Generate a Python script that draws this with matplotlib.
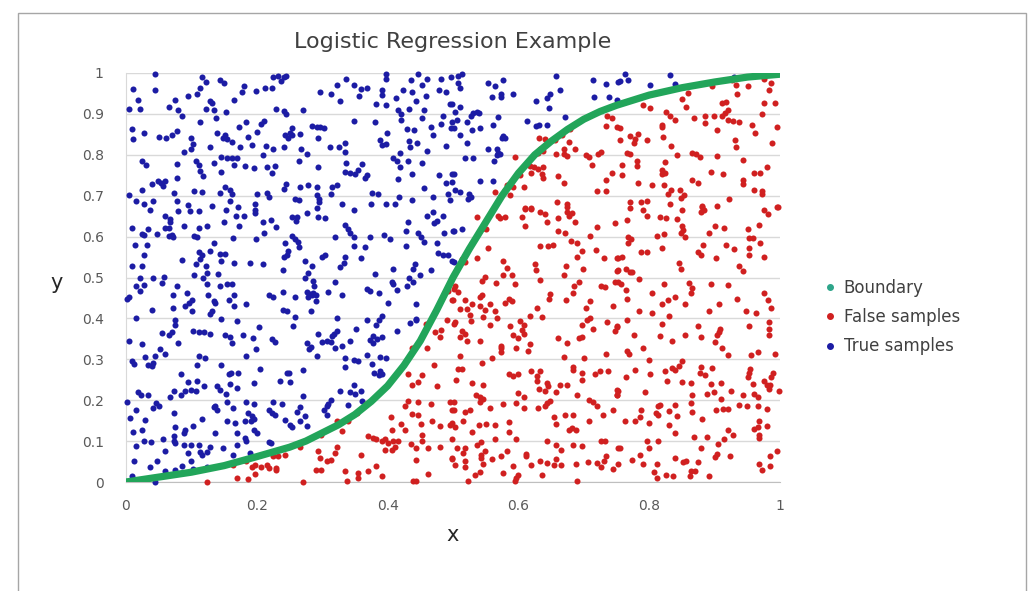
import matplotlib
matplotlib.use("Agg")
import matplotlib.pyplot as plt
from matplotlib.lines import Line2D
from matplotlib.patches import Rectangle

plt.rcParams['font.family'] = ['DejaVu Sans']

title = "Logistic Regression Example"
x_label = "x"
y_label = "y"
x_ticks = [0, 0.2, 0.4, 0.6, 0.8, 1]
x_tick_labels = ["0", "0.2", "0.4", "0.6", "0.8", "1"]
y_ticks = [0, 0.1, 0.2, 0.3, 0.4, 0.5, 0.6, 0.7, 0.8, 0.9, 1]
y_tick_labels = ["0", "0.1", "0.2", "0.3", "0.4", "0.5", "0.6", "0.7", "0.8", "0.9", "1"]
legend_labels = ["Boundary", "False samples", "True samples"]

# Boundary curve
boundary_x = [0, 0.05, 0.1, 0.15, 0.2, 0.25, 0.275, 0.3, 0.325, 0.35, 0.375, 0.4, 0.425, 0.45, 0.475, 0.5,
              0.525, 0.55, 0.575, 0.6, 0.625, 0.65, 0.675, 0.7, 0.725, 0.75, 0.8, 0.85, 0.9, 0.95, 1.0]
boundary_y = [0.0, 0.012, 0.024, 0.04, 0.062, 0.085, 0.10, 0.12, 0.14, 0.165, 0.197, 0.235, 0.285, 0.345, 0.42, 0.50,
              0.57, 0.635, 0.70, 0.755, 0.80, 0.833, 0.862, 0.887, 0.906, 0.921, 0.946, 0.964, 0.978, 0.99, 0.997]

true_samples = [
(0.044,0.997),(0.116,0.99),(0.122,0.978),(0.144,0.982),(0.150,0.975),(0.225,0.99),(0.233,0.992),(0.241,0.99),(0.237,0.98),(0.245,0.992),
(0.011,0.962),(0.044,0.958),(0.113,0.964),(0.180,0.967),(0.178,0.953),(0.199,0.956),(0.213,0.964),(0.223,0.964),
(0.019,0.935),(0.075,0.933),(0.095,0.944),(0.109,0.948),(0.128,0.931),(0.132,0.927),(0.165,0.933),
(0.004,0.913),(0.021,0.913),(0.065,0.918),(0.079,0.909),(0.085,0.895),(0.123,0.913),(0.135,0.91),(0.153,0.905),(0.230,0.913),(0.241,0.907),(0.245,0.9),
(0.138,0.89),(0.113,0.879),(0.183,0.879),(0.173,0.868),(0.211,0.883),(0.207,0.876),
(0.009,0.862),(0.010,0.839),(0.027,0.853),(0.051,0.843),(0.061,0.842),(0.070,0.849),(0.078,0.859),(0.100,0.841),(0.139,0.853),(0.151,0.848),(0.155,0.839),(0.149,0.842),(0.186,0.843),(0.201,0.856),(0.243,0.849),(0.248,0.841),
(0.103,0.826),(0.100,0.813),(0.088,0.807),(0.128,0.819),(0.162,0.831),(0.175,0.819),(0.193,0.824),(0.214,0.821),(0.225,0.813),(0.241,0.818),(0.209,0.799),
(0.146,0.795),(0.155,0.793),(0.162,0.793),(0.169,0.793),(0.025,0.784),(0.030,0.775),(0.078,0.778),(0.107,0.786),(0.111,0.775),(0.135,0.781),(0.165,0.775),(0.182,0.772),(0.196,0.768),(0.215,0.77),(0.228,0.772),
(0.113,0.76),(0.146,0.758),(0.224,0.756),(0.078,0.744),(0.118,0.747),
(0.039,0.729),(0.049,0.737),(0.054,0.731),(0.057,0.724),(0.060,0.737),(0.151,0.721),(0.159,0.715),(0.245,0.729),(0.242,0.717),
(0.004,0.701),(0.024,0.713),(0.073,0.706),(0.104,0.711),(0.116,0.709),(0.144,0.706),(0.162,0.703),(0.201,0.704),(0.215,0.706),(0.218,0.698),
(0.016,0.688),(0.027,0.68),(0.042,0.688),(0.078,0.687),(0.095,0.678),(0.132,0.676),(0.159,0.687),(0.172,0.672),(0.197,0.68),
(0.337,0.986),(0.397,0.997),(0.397,0.986),(0.446,0.997),(0.436,0.984),(0.461,0.986),(0.482,0.986),(0.497,0.99),
(0.322,0.97),(0.348,0.97),(0.360,0.962),(0.368,0.964),(0.392,0.958),(0.424,0.958),(0.438,0.954),(0.453,0.97),(0.479,0.959),(0.490,0.954),(0.297,0.954),(0.314,0.948),(0.356,0.944),(0.392,0.947),
(0.327,0.931),(0.383,0.925),(0.398,0.921),(0.413,0.939),(0.443,0.931),(0.458,0.944),(0.495,0.925),
(0.271,0.909),(0.416,0.91),(0.420,0.899),(0.433,0.913),(0.456,0.909),(0.484,0.896),(0.421,0.886),(0.452,0.89),(0.348,0.883),(0.381,0.879),(0.482,0.876),(0.499,0.88),
(0.254,0.866),(0.285,0.87),(0.292,0.868),(0.297,0.868),(0.303,0.866),(0.429,0.864),(0.441,0.86),(0.467,0.868),(0.497,0.866),
(0.251,0.853),(0.254,0.848),(0.266,0.85),(0.399,0.854),(0.469,0.849),(0.294,0.842),
(0.388,0.837),(0.391,0.825),(0.397,0.827),(0.335,0.829),(0.312,0.819),(0.325,0.819),(0.268,0.815),(0.432,0.834),(0.434,0.819),(0.445,0.829),(0.490,0.822),
(0.335,0.807),(0.419,0.804),(0.461,0.809),(0.276,0.801),(0.409,0.791),(0.414,0.785),(0.265,0.786),(0.431,0.784),(0.452,0.781),(0.337,0.781),(0.361,0.777),(0.419,0.769),(0.294,0.769),
(0.335,0.758),(0.343,0.755),(0.350,0.752),(0.354,0.762),(0.366,0.744),(0.369,0.75),(0.416,0.742),(0.437,0.752),(0.479,0.75),(0.498,0.752),
(0.266,0.721),(0.279,0.725),(0.292,0.721),(0.315,0.721),(0.322,0.725),(0.490,0.732),(0.456,0.72),(0.376,0.707),(0.385,0.703),(0.313,0.705),
(0.292,0.701),(0.295,0.693),(0.295,0.685),(0.258,0.693),(0.264,0.689),(0.418,0.698),(0.437,0.689),(0.470,0.698),(0.493,0.703),(0.495,0.69),
(0.330,0.68),(0.374,0.68),(0.398,0.679),(0.411,0.679),
(0.507,0.992),(0.513,0.998),(0.507,0.976),(0.510,0.964),(0.554,0.976),(0.577,0.984),(0.564,0.967),(0.657,0.992),(0.714,0.984),(0.734,0.972),(0.753,0.978),
(0.574,0.948),(0.574,0.941),(0.559,0.941),(0.592,0.948),(0.663,0.959),(0.648,0.948),(0.643,0.939),(0.627,0.931),(0.715,0.941),(0.738,0.941),(0.750,0.933),
(0.498,0.925),(0.511,0.918),(0.647,0.915),(0.503,0.905),(0.531,0.901),(0.536,0.905),(0.540,0.903),(0.569,0.892),(0.506,0.884),(0.521,0.880),(0.527,0.894),(0.671,0.892),(0.613,0.882),
(0.502,0.866),(0.529,0.861),(0.541,0.866),(0.561,0.874),(0.627,0.87),(0.632,0.874),(0.644,0.872),(0.511,0.848),(0.575,0.841),(0.577,0.847),(0.579,0.841),(0.521,0.829),
(0.554,0.815),(0.567,0.815),(0.569,0.804),(0.567,0.799),(0.572,0.803),(0.562,0.786),(0.518,0.791),(0.530,0.791),(0.502,0.752),(0.498,0.733),(0.541,0.736),(0.561,0.736),
(0.503,0.713),(0.510,0.709),(0.525,0.705),(0.528,0.697),(0.523,0.693),
(0.763,0.998),(0.755,0.98),(0.768,0.984),(0.832,0.996),(0.801,0.97),(0.839,0.974),(0.929,0.99),
(0.037,0.664),(0.080,0.662),(0.098,0.662),(0.112,0.662),(0.153,0.664),(0.168,0.651),(0.180,0.651),(0.197,0.657),(0.198,0.665),
(0.060,0.651),(0.068,0.643),(0.068,0.635),(0.124,0.627),(0.088,0.627),(0.060,0.621),(0.065,0.621),(0.112,0.621),(0.150,0.635),(0.173,0.627),(0.210,0.635),(0.221,0.641),(0.229,0.623),
(0.009,0.621),(0.034,0.619),(0.024,0.607),(0.028,0.605),(0.047,0.607),(0.065,0.601),(0.072,0.600),(0.070,0.605),(0.104,0.602),(0.109,0.6),(0.164,0.596),(0.199,0.593),(0.211,0.608),
(0.014,0.58),(0.032,0.58),(0.135,0.584),(0.243,0.585),(0.111,0.562),(0.116,0.554),(0.113,0.545),(0.128,0.564),(0.144,0.558),(0.151,0.558),(0.027,0.555),(0.085,0.544),(0.145,0.54),(0.241,0.549),(0.246,0.554),
(0.009,0.527),(0.024,0.529),(0.107,0.532),(0.122,0.529),(0.165,0.535),(0.190,0.535),(0.209,0.532),(0.124,0.511),(0.140,0.509),(0.240,0.518),
(0.021,0.5),(0.042,0.499),(0.058,0.502),(0.104,0.505),(0.117,0.499),(0.055,0.486),(0.016,0.478),(0.027,0.481),(0.021,0.466),(0.078,0.478),(0.124,0.483),(0.144,0.479),(0.154,0.483),(0.162,0.484),
(0.002,0.448),(0.005,0.453),(0.072,0.458),(0.093,0.461),(0.126,0.458),(0.165,0.456),(0.218,0.458),(0.225,0.452),(0.240,0.464),
(0.101,0.444),(0.096,0.437),(0.090,0.431),(0.135,0.442),(0.136,0.437),(0.157,0.444),(0.165,0.431),(0.184,0.435),(0.072,0.426),(0.039,0.421),(0.101,0.419),(0.131,0.419),(0.128,0.411),(0.240,0.421),(0.246,0.419),
(0.016,0.401),(0.075,0.395),(0.075,0.384),(0.145,0.399),(0.170,0.393),(0.204,0.378),(0.055,0.364),(0.065,0.36),(0.070,0.366),(0.103,0.368),(0.112,0.366),(0.119,0.366),(0.128,0.362),
(0.151,0.36),(0.159,0.355),(0.179,0.36),(0.194,0.351),(0.224,0.349),(0.228,0.342),(0.004,0.344),(0.024,0.338),(0.080,0.339),(0.162,0.339),
(0.292,0.670),(0.348,0.664),(0.254,0.649),(0.261,0.649),(0.260,0.637),(0.276,0.657),(0.294,0.649),(0.304,0.646),(0.431,0.635),(0.460,0.651),(0.470,0.659),(0.475,0.637),(0.471,0.633),(0.485,0.651),
(0.335,0.629),(0.339,0.619),(0.343,0.608),(0.348,0.6),(0.320,0.6),(0.373,0.598),(0.394,0.605),(0.403,0.594),(0.428,0.613),(0.447,0.608),(0.451,0.598),(0.487,0.61),(0.500,0.613),
(0.254,0.602),(0.258,0.594),(0.263,0.586),(0.455,0.586),(0.475,0.584),(0.265,0.574),(0.248,0.566),(0.348,0.576),(0.366,0.574),(0.428,0.578),
(0.477,0.559),(0.485,0.554),(0.493,0.556),(0.498,0.54),(0.300,0.549),(0.304,0.554),(0.335,0.549),(0.334,0.536),(0.327,0.525),(0.360,0.548),(0.274,0.541),(0.284,0.527),
(0.442,0.532),(0.439,0.521),(0.409,0.521),(0.450,0.507),(0.466,0.518),(0.381,0.509),(0.278,0.511),(0.274,0.5),(0.432,0.5),(0.429,0.48),(0.439,0.488),
(0.406,0.488),(0.409,0.484),(0.414,0.47),(0.286,0.492),(0.288,0.48),(0.320,0.488),(0.368,0.472),(0.373,0.468),(0.387,0.461),
(0.276,0.464),(0.281,0.46),(0.286,0.461),(0.290,0.458),(0.284,0.456),(0.279,0.452),(0.309,0.464),(0.330,0.456),(0.258,0.452),(0.291,0.442),(0.400,0.437),(0.443,0.435),
(0.283,0.419),(0.322,0.401),(0.258,0.404),(0.368,0.396),(0.391,0.405),(0.387,0.395),(0.383,0.385),(0.443,0.399),(0.444,0.395),(0.434,0.389),
(0.255,0.381),(0.352,0.374),(0.415,0.37),(0.322,0.369),(0.318,0.362),(0.315,0.356),(0.293,0.362),(0.377,0.358),(0.384,0.35),(0.392,0.354),
(0.276,0.339),(0.299,0.342),(0.307,0.344),(0.314,0.342),(0.343,0.344),(0.373,0.346),(0.377,0.339),
(0.502,0.613),(0.513,0.619),(0.502,0.537),
(0.052,0.326),(0.060,0.313),(0.112,0.307),(0.121,0.303),(0.184,0.307),(0.199,0.326),(0.009,0.295),(0.012,0.289),(0.029,0.305),(0.044,0.307),(0.034,0.287),(0.039,0.283),(0.042,0.291),
(0.109,0.285),(0.145,0.287),(0.205,0.277),(0.084,0.265),(0.158,0.263),(0.161,0.267),(0.172,0.267),(0.246,0.267),(0.095,0.245),(0.109,0.248),(0.235,0.248),(0.196,0.242),(0.159,0.24),
(0.139,0.234),(0.143,0.226),(0.119,0.234),(0.019,0.22),(0.023,0.212),(0.034,0.212),(0.073,0.222),(0.090,0.223),(0.099,0.226),(0.107,0.223),(0.084,0.212),(0.067,0.207),(0.153,0.215),(0.170,0.23),
(0.002,0.196),(0.046,0.193),(0.050,0.185),(0.042,0.181),(0.155,0.196),(0.184,0.196),(0.196,0.191),(0.225,0.196),(0.238,0.191),(0.016,0.177),(0.073,0.169),(0.134,0.183),(0.139,0.177),(0.136,0.185),(0.164,0.181),
(0.218,0.177),(0.224,0.169),(0.228,0.165),(0.187,0.169),(0.192,0.161),(0.195,0.153),(0.191,0.148),(0.006,0.157),(0.029,0.152),(0.116,0.155),(0.154,0.15),(0.167,0.144),(0.182,0.148),(0.243,0.152),
(0.102,0.136),(0.075,0.134),(0.011,0.122),(0.024,0.126),(0.090,0.126),(0.088,0.12),(0.136,0.12),(0.195,0.128),(0.200,0.12),(0.170,0.12),(0.073,0.112),(0.056,0.106),(0.027,0.101),(0.038,0.098),
(0.182,0.108),(0.183,0.101),(0.218,0.098),(0.221,0.095),(0.073,0.1),(0.075,0.096),(0.088,0.091),(0.100,0.09),(0.016,0.087),(0.111,0.09),(0.128,0.085),(0.170,0.09),
(0.060,0.077),(0.095,0.071),(0.113,0.073),(0.116,0.067),(0.124,0.073),(0.149,0.082),(0.189,0.071),(0.012,0.051),(0.047,0.051),(0.100,0.051),(0.164,0.067),
(0.037,0.036),(0.060,0.028),(0.075,0.030),(0.085,0.038),(0.103,0.033),(0.124,0.036),(0.009,0.014),(0.044,0.0),
(0.280,0.326),(0.283,0.329),(0.320,0.328),(0.330,0.332),(0.292,0.307),(0.335,0.303),(0.348,0.299),(0.354,0.297),(0.368,0.31),(0.388,0.305),(0.398,0.302),(0.376,0.289),(0.335,0.28),
(0.249,0.267),(0.271,0.275),(0.379,0.267),(0.388,0.271),(0.392,0.264),(0.387,0.261),(0.251,0.245),(0.348,0.236),(0.327,0.222),(0.342,0.22),(0.350,0.215),(0.359,0.222),(0.271,0.21),
(0.314,0.201),(0.309,0.191),(0.307,0.185),(0.266,0.183),(0.340,0.188),(0.361,0.198),(0.303,0.177),(0.261,0.171),(0.274,0.161),(0.307,0.163),(0.266,0.15),(0.251,0.14),(0.254,0.134),(0.276,0.136),
]

false_samples = [
(0.735,0.894),(0.743,0.891),(0.734,0.87),(0.750,0.868),(0.679,0.864),(0.666,0.848),(0.632,0.841),(0.641,0.839),(0.656,0.837),(0.678,0.832),(0.633,0.815),(0.638,0.81),(0.669,0.815),(0.687,0.813),
(0.727,0.808),(0.722,0.802),(0.595,0.795),(0.630,0.804),(0.658,0.801),(0.670,0.801),(0.675,0.796),(0.704,0.799),(0.708,0.795),(0.613,0.78),(0.617,0.773),(0.624,0.771),(0.630,0.766),(0.638,0.769),(0.712,0.774),
(0.603,0.75),(0.619,0.756),(0.636,0.752),(0.637,0.744),(0.660,0.747),(0.743,0.756),(0.734,0.739),(0.583,0.725),(0.592,0.721),(0.608,0.721),(0.670,0.732),(0.564,0.709),(0.580,0.715),(0.587,0.701),
(0.720,0.711),(0.734,0.711),(0.659,0.685),(0.674,0.679),(0.610,0.668),(0.620,0.671),
(0.927,0.982),(0.932,0.97),(0.975,0.986),(0.987,0.976),(0.896,0.967),(0.859,0.951),(0.951,0.967),(0.983,0.958),(0.934,0.948),(0.850,0.936),(0.791,0.921),(0.801,0.915),(0.857,0.917),(0.911,0.927),(0.918,0.929),
(0.976,0.927),(0.992,0.927),(0.825,0.905),(0.832,0.894),(0.839,0.884),(0.921,0.91),(0.916,0.901),(0.911,0.894),(0.972,0.899),(0.869,0.89),(0.885,0.896),(0.899,0.895),(0.920,0.884),(0.928,0.882),(0.937,0.881),
(0.885,0.878),(0.819,0.874),(0.820,0.868),(0.957,0.874),(0.996,0.869),(0.755,0.866),(0.904,0.86),(0.962,0.853),(0.771,0.845),(0.778,0.839),(0.776,0.829),(0.783,0.851),(0.755,0.837),(0.796,0.837),(0.821,0.843),
(0.931,0.837),(0.932,0.819),(0.988,0.83),(0.834,0.821),(0.766,0.805),(0.771,0.802),(0.842,0.799),(0.865,0.805),(0.872,0.802),(0.877,0.795),(0.903,0.796),(0.944,0.788),(0.781,0.784),(0.781,0.772),(0.824,0.782),
(0.758,0.774),(0.819,0.762),(0.824,0.755),(0.819,0.752),(0.894,0.758),(0.913,0.754),(0.961,0.756),(0.969,0.756),(0.980,0.769),(0.758,0.75),(0.865,0.739),(0.783,0.732),(0.804,0.727),(0.875,0.732),(0.943,0.739),
(0.943,0.729),(0.823,0.727),(0.847,0.715),(0.833,0.715),(0.828,0.703),(0.853,0.701),(0.848,0.695),(0.961,0.713),(0.972,0.711),(0.972,0.705),(0.922,0.692),(0.771,0.685),(0.788,0.685),(0.796,0.687),(0.832,0.679),
(0.881,0.674),(0.903,0.674),(0.996,0.672),
(0.493,0.466),(0.501,0.472),(0.498,0.444),(0.458,0.387),(0.473,0.366),(0.482,0.372),(0.480,0.354),(0.491,0.395),(0.501,0.387),
(0.610,0.67),(0.620,0.668),(0.674,0.672),(0.675,0.66),(0.633,0.659),(0.641,0.655),(0.682,0.657),(0.536,0.647),(0.569,0.651),(0.572,0.646),(0.580,0.647),(0.605,0.647),(0.661,0.646),(0.678,0.651),(0.687,0.635),
(0.748,0.633),(0.610,0.627),(0.643,0.635),(0.546,0.621),(0.550,0.619),(0.720,0.624),(0.661,0.613),(0.671,0.608),(0.709,0.602),(0.529,0.584),(0.554,0.572),(0.633,0.578),(0.646,0.576),(0.653,0.58),(0.680,0.589),
(0.689,0.584),(0.698,0.566),(0.719,0.568),(0.536,0.548),(0.513,0.545),(0.518,0.537),(0.690,0.549),(0.731,0.548),(0.750,0.548),(0.577,0.541),(0.583,0.523),(0.625,0.532),(0.627,0.518),(0.673,0.529),(0.699,0.521),
(0.750,0.517),(0.549,0.502),(0.544,0.491),(0.577,0.505),(0.590,0.505),(0.633,0.494),(0.670,0.505),(0.692,0.488),(0.685,0.48),(0.565,0.486),(0.595,0.483),(0.727,0.48),(0.732,0.476),(0.748,0.488),(0.503,0.478),
(0.507,0.464),(0.544,0.458),(0.541,0.452),(0.649,0.46),(0.683,0.461),(0.500,0.444),(0.518,0.445),(0.585,0.447),(0.580,0.438),(0.590,0.442),(0.647,0.447),(0.673,0.444),(0.709,0.442),(0.704,0.426),(0.744,0.431),
(0.529,0.434),(0.541,0.431),(0.557,0.434),(0.510,0.423),(0.521,0.423),(0.549,0.421),(0.564,0.417),(0.628,0.426),(0.526,0.409),(0.546,0.403),(0.567,0.401),(0.618,0.407),(0.636,0.404),(0.710,0.401),(0.705,0.396),
(0.503,0.391),(0.528,0.393),(0.557,0.385),(0.587,0.382),(0.603,0.393),(0.608,0.385),(0.605,0.372),(0.608,0.362),(0.697,0.385),(0.714,0.374),(0.735,0.391),(0.750,0.382),(0.748,0.369),(0.513,0.37),(0.518,0.362),
(0.510,0.355),(0.521,0.344),(0.592,0.36),(0.600,0.352),(0.661,0.352),(0.693,0.352),(0.698,0.355),(0.541,0.344),(0.618,0.338),(0.674,0.339),(0.574,0.333),
(0.771,0.67),(0.791,0.665),(0.796,0.651),(0.850,0.664),(0.881,0.673),(0.884,0.665),(0.879,0.659),(0.976,0.665),(0.982,0.655),(0.997,0.672),(0.766,0.641),(0.816,0.649),(0.825,0.646),(0.842,0.643),(0.968,0.629),
(0.901,0.627),(0.915,0.621),(0.850,0.627),(0.851,0.615),(0.849,0.608),(0.854,0.598),(0.951,0.619),(0.892,0.61),(0.812,0.601),(0.822,0.607),(0.767,0.598),(0.772,0.594),(0.767,0.584),(0.952,0.597),(0.959,0.597),
(0.969,0.584),(0.883,0.58),(0.917,0.58),(0.929,0.57),(0.819,0.572),(0.787,0.563),(0.796,0.563),(0.875,0.563),(0.879,0.555),(0.952,0.572),(0.953,0.555),(0.976,0.551),(0.902,0.548),(0.752,0.548),(0.759,0.549),
(0.845,0.535),(0.849,0.521),(0.937,0.527),(0.944,0.515),(0.752,0.519),(0.765,0.521),(0.770,0.514),(0.774,0.513),(0.785,0.496),(0.753,0.488),(0.757,0.483),(0.823,0.484),(0.861,0.487),(0.866,0.474),(0.895,0.484),
(0.920,0.482),(0.764,0.47),(0.804,0.461),(0.864,0.461),(0.976,0.461),(0.839,0.453),(0.828,0.444),(0.820,0.435),(0.766,0.448),(0.935,0.448),(0.981,0.444),(0.855,0.435),(0.907,0.434),(0.986,0.426),(0.784,0.417),
(0.804,0.413),(0.830,0.407),(0.891,0.417),(0.948,0.417),(0.964,0.413),(0.766,0.395),(0.819,0.387),(0.875,0.382),(0.908,0.374),(0.906,0.366),(0.903,0.36),(0.952,0.382),(0.983,0.391),(0.983,0.374),(0.983,0.36),
(0.75,0.38),(0.776,0.36),(0.817,0.358),(0.855,0.36),(0.879,0.354),(0.835,0.344),(0.901,0.342),
(0.225,0.063),(0.233,0.063),(0.243,0.067),(0.184,0.051),(0.192,0.036),(0.197,0.041),(0.207,0.036),(0.215,0.041),(0.218,0.034),(0.230,0.034),(0.230,0.03),(0.163,0.041),(0.170,0.011),(0.186,0.008),(0.197,0.02),(0.124,0.0),
(0.461,0.328),(0.437,0.328),(0.471,0.287),(0.431,0.264),(0.453,0.262),(0.446,0.245),(0.437,0.236),(0.475,0.234),(0.367,0.191),(0.431,0.199),(0.446,0.196),(0.427,0.185),(0.467,0.191),(0.495,0.196),(0.498,0.177),
(0.353,0.169),(0.322,0.15),(0.340,0.15),(0.405,0.158),(0.437,0.166),(0.447,0.163),(0.468,0.148),(0.420,0.142),(0.427,0.128),(0.451,0.142),(0.480,0.136),(0.495,0.14),(0.330,0.124),(0.407,0.126),(0.298,0.114),
(0.370,0.112),(0.377,0.108),(0.383,0.104),(0.391,0.1),(0.396,0.104),(0.401,0.095),(0.409,0.1),(0.411,0.085),(0.416,0.101),(0.452,0.114),(0.453,0.101),(0.436,0.093),(0.443,0.082),(0.462,0.083),(0.480,0.085),
(0.498,0.104),(0.396,0.079),(0.406,0.079),(0.266,0.085),(0.294,0.075),(0.322,0.085),(0.320,0.071),(0.359,0.065),(0.444,0.055),(0.498,0.059),(0.297,0.059),(0.307,0.051),(0.313,0.055),(0.383,0.038),(0.290,0.03),
(0.298,0.03),(0.335,0.028),(0.370,0.028),(0.355,0.022),(0.355,0.01),(0.392,0.014),(0.338,0.003),(0.462,0.02),(0.439,0.002),(0.444,0.002),(0.271,0.0),
(0.511,0.307),(0.574,0.328),(0.574,0.318),(0.597,0.328),(0.615,0.32),(0.559,0.303),(0.544,0.291),(0.669,0.305),(0.700,0.303),(0.734,0.313),(0.508,0.277),(0.513,0.277),(0.505,0.25),(0.585,0.264),(0.592,0.26),
(0.600,0.265),(0.619,0.271),(0.633,0.272),(0.629,0.258),(0.629,0.248),(0.683,0.28),(0.684,0.275),(0.697,0.267),(0.698,0.25),(0.717,0.264),(0.725,0.271),(0.737,0.271),(0.529,0.242),(0.546,0.238),(0.643,0.242),
(0.646,0.234),(0.663,0.238),(0.674,0.236),(0.631,0.228),(0.641,0.222),(0.658,0.22),(0.750,0.226),(0.600,0.217),(0.608,0.207),(0.535,0.212),(0.541,0.207),(0.546,0.204),(0.542,0.196),(0.502,0.196),(0.577,0.191),
(0.597,0.193),(0.643,0.193),(0.641,0.185),(0.648,0.197),(0.630,0.181),(0.690,0.212),(0.708,0.201),(0.714,0.196),(0.720,0.185),(0.750,0.212),(0.502,0.177),(0.518,0.171),(0.526,0.177),(0.557,0.181),(0.608,0.18),
(0.745,0.177),(0.655,0.158),(0.671,0.165),(0.684,0.165),(0.730,0.163),(0.708,0.15),(0.516,0.15),(0.498,0.144),(0.503,0.134),(0.539,0.139),(0.550,0.142),(0.564,0.139),(0.585,0.147),(0.658,0.142),(0.677,0.126),
(0.682,0.131),(0.688,0.126),(0.529,0.122),(0.585,0.122),(0.564,0.106),(0.597,0.104),(0.643,0.101),(0.727,0.101),(0.732,0.101),(0.536,0.09),(0.543,0.098),(0.506,0.083),(0.519,0.083),(0.549,0.077),(0.582,0.077),
(0.658,0.091),(0.665,0.079),(0.683,0.091),(0.698,0.087),(0.752,0.082),(0.516,0.071),(0.543,0.065),(0.543,0.059),(0.612,0.069),(0.612,0.063),(0.559,0.057),(0.574,0.063),(0.658,0.057),(0.734,0.063),(0.498,0.057),
(0.519,0.051),(0.633,0.051),(0.643,0.047),(0.654,0.041),(0.665,0.041),(0.688,0.044),(0.707,0.049),(0.720,0.047),(0.731,0.052),(0.745,0.033),(0.503,0.041),(0.519,0.036),(0.546,0.044),(0.592,0.038),(0.620,0.041),
(0.727,0.036),(0.534,0.016),(0.541,0.024),(0.577,0.022),(0.600,0.018),(0.597,0.011),(0.636,0.016),(0.523,0.002),(0.595,0.002),(0.690,0.002),
(0.766,0.32),(0.769,0.313),(0.791,0.328),(0.911,0.328),(0.921,0.31),(0.799,0.299),(0.850,0.297),(0.956,0.311),(0.967,0.318),(0.992,0.313),(0.778,0.275),(0.765,0.256),(0.801,0.263),(0.824,0.271),(0.835,0.279),
(0.839,0.275),(0.846,0.283),(0.879,0.28),(0.896,0.279),(0.878,0.267),(0.886,0.261),(0.954,0.277),(0.952,0.267),(0.951,0.256),(0.987,0.256),(0.990,0.267),(0.827,0.248),(0.850,0.245),(0.864,0.242),(0.894,0.24),
(0.910,0.242),(0.958,0.24),(0.976,0.248),(0.980,0.236),(0.983,0.228),(0.985,0.238),(0.753,0.223),(0.750,0.212),(0.794,0.22),(0.865,0.212),(0.889,0.216),(0.899,0.22),(0.925,0.223),(0.944,0.212),(0.961,0.215),
(0.967,0.207),(0.998,0.222),(0.910,0.204),(0.813,0.185),(0.817,0.189),(0.839,0.188),(0.864,0.193),(0.937,0.188),(0.950,0.185),(0.967,0.185),(0.980,0.179),(0.787,0.177),(0.831,0.173),(0.902,0.177),(0.913,0.179),
(0.921,0.179),(0.811,0.169),(0.814,0.163),(0.865,0.171),(0.786,0.158),(0.778,0.15),(0.763,0.15),(0.800,0.144),(0.842,0.161),(0.881,0.153),(0.968,0.149),(0.831,0.139),(0.961,0.13),(0.967,0.134),(0.980,0.136),
(0.920,0.128),(0.928,0.116),(0.840,0.12),(0.968,0.114),(0.968,0.108),(0.868,0.109),(0.888,0.109),(0.915,0.104),(0.796,0.101),(0.814,0.101),(0.905,0.093),(0.755,0.082),(0.799,0.082),(0.879,0.082),(0.995,0.077),
(0.786,0.067),(0.903,0.069),(0.901,0.061),(0.923,0.063),(0.985,0.063),(0.773,0.055),(0.840,0.059),(0.852,0.049),(0.857,0.052),(0.874,0.049),(0.753,0.044),(0.791,0.044),(0.812,0.044),(0.968,0.044),(0.985,0.038),
(0.864,0.028),(0.870,0.028),(0.807,0.025),(0.972,0.03),(0.825,0.018),(0.812,0.01),(0.837,0.014),(0.862,0.014),(0.892,0.014),
]

true_x = [p[0] for p in true_samples]
true_y = [p[1] for p in true_samples]
false_x = [p[0] for p in false_samples]
false_y = [p[1] for p in false_samples]

BLUE = '#1c1ca4'
RED = '#d02020'
GREEN = '#22a55a'
TEAL = '#2ea58a'
GRAY_TXT = '#595959'

W, H = 1032, 591
fig = plt.figure(figsize=(W / 100, H / 100), dpi=100)
fig.patch.set_facecolor('white')

# outer chart border
fig.add_artist(Rectangle((18 / W, -0.05), (1026 - 18) / W, (591 - 13) / H + 0.05,
                         transform=fig.transFigure, fill=False, edgecolor='#a6a6a6', linewidth=1.0))

ax = fig.add_axes([126 / W, (H - 482) / H, (780 - 126) / W, (482 - 73) / H])
ax.set_xlim(0, 1)
ax.set_ylim(0, 1)

ax.set_yticks(y_ticks)
ax.set_yticklabels(y_tick_labels)
ax.set_xticks(x_ticks)
ax.set_xticklabels(x_tick_labels)
ax.tick_params(axis='both', length=0, labelsize=10, colors=GRAY_TXT)
ax.tick_params(axis='y', pad=16)
ax.tick_params(axis='x', pad=12)
ax.grid(axis='y', color='#d9d9d9', linewidth=1.0)
ax.set_axisbelow(True)
for s in ['top', 'right']:
    ax.spines[s].set_visible(False)
ax.spines['left'].set_color('#d9d9d9')
ax.spines['bottom'].set_color('#bfbfbf')

ax.scatter(true_x, true_y, s=19, color=BLUE, linewidths=0, zorder=3, clip_on=False)
ax.scatter(false_x, false_y, s=19, color=RED, linewidths=0, zorder=3, clip_on=False)
ax.plot(boundary_x, boundary_y, color=GREEN, linewidth=5.2, solid_capstyle='round',
        solid_joinstyle='round', zorder=4)

fig.text(453 / W, (H - 42) / H, title, ha='center', va='center', fontsize=16, color='#404040')
fig.text(57 / W, (H - 283) / H, y_label, ha='center', va='center', fontsize=15, color='#262626')
fig.text(453 / W, (H - 535) / H, x_label, ha='center', va='center', fontsize=15, color='#262626')

handles = [Line2D([], [], linestyle='none', marker='o', markersize=4, color=c)
           for c in [TEAL, RED, BLUE]]
leg = fig.legend(handles, legend_labels, loc='upper left', bbox_to_anchor=(818 / W, (H - 272) / H),
                 frameon=False, fontsize=12, handlelength=0.6, handletextpad=0.55,
                 labelspacing=0.68, borderaxespad=0)
for t in leg.get_texts():
    t.set_color('#404040')

fig.savefig('out.png', dpi=100, facecolor='white')
